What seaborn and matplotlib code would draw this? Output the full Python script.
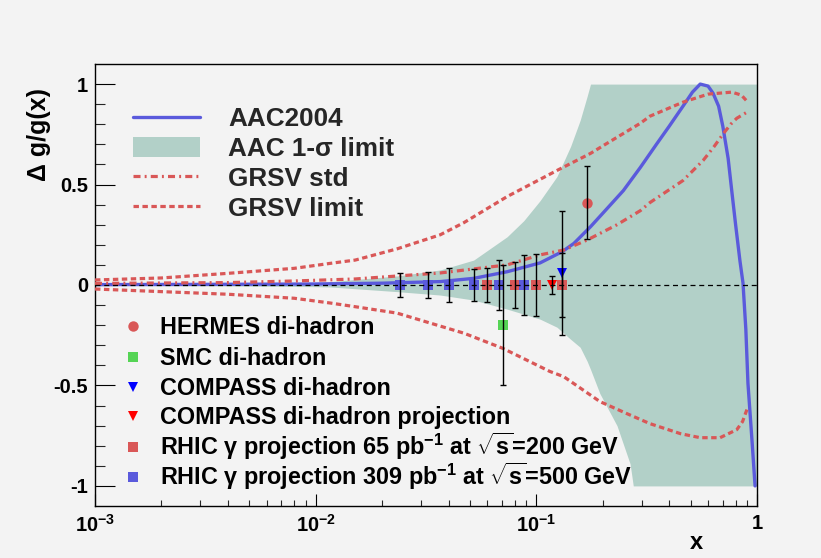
import numpy as np
import pandas as pd
import matplotlib
matplotlib.use("Agg")
import matplotlib.pyplot as plt
import seaborn as sns
from matplotlib.lines import Line2D
from matplotlib.patches import Patch
from matplotlib.ticker import FixedLocator, FuncFormatter

# AAC2004 central curve
aac_x = [0.001, 0.003, 0.01, 0.02, 0.0367, 0.052, 0.0737, 0.104, 0.131, 0.148, 0.176, 0.209,
         0.248, 0.296, 0.35, 0.4, 0.462, 0.51, 0.553, 0.6, 0.632, 0.67, 0.70, 0.74, 0.77,
         0.80, 0.837, 0.864, 0.89, 0.91, 0.95, 0.98]
aac_y = [0.002, 0.003, 0.005, 0.009, 0.017, 0.033, 0.066, 0.11, 0.166, 0.207, 0.29, 0.38,
         0.47, 0.585, 0.70, 0.79, 0.89, 0.96, 1.0, 0.99, 0.955, 0.89, 0.79, 0.63, 0.46,
         0.3, 0.12, 0.01, -0.22, -0.49, -0.78, -1.0]

# AAC 1-sigma band
band_x = [0.001, 0.003, 0.0096, 0.0117, 0.0234, 0.0367, 0.052, 0.0737, 0.0877, 0.104, 0.124,
          0.143, 0.158, 0.17, 0.176, 0.194, 0.232, 0.266, 0.275, 1.0]
band_up = [0.002, 0.004, 0.012, 0.017, 0.045, 0.075, 0.124, 0.24, 0.32, 0.42, 0.54,
           0.69, 0.82, 0.94, 1.0, 1.0, 1.0, 1.0, 1.0, 1.0]
band_lo = [-0.002, -0.004, -0.008, -0.01, -0.033, -0.05, -0.075, -0.12, -0.145, -0.17, -0.21,
           -0.27, -0.31, -0.38, -0.42, -0.54, -0.70, -0.89, -1.0, -1.0]

# GRSV std
gs_x = [0.001, 0.004, 0.008, 0.0151, 0.0367, 0.0737, 0.104, 0.133, 0.17, 0.232, 0.296,
        0.327, 0.462, 0.57, 0.64, 0.70, 0.76, 0.81, 0.9]
gs_y = [0.008, 0.012, 0.02, 0.03, 0.06, 0.1, 0.15, 0.174, 0.224, 0.3, 0.37,
        0.41, 0.52, 0.62, 0.69, 0.75, 0.80, 0.83, 0.86]

# GRSV limit, upper and lower
glu_x = [0.001, 0.002, 0.004, 0.008, 0.0117, 0.0151, 0.0234, 0.0367, 0.0469, 0.0737, 0.124,
         0.176, 0.209, 0.296, 0.327, 0.462, 0.6, 0.77, 0.85, 0.9]
glu_y = [0.025, 0.035, 0.058, 0.083, 0.108, 0.124, 0.18, 0.25, 0.31, 0.44, 0.57,
         0.655, 0.705, 0.805, 0.84, 0.91, 0.95, 0.96, 0.945, 0.915]
gll_x = [0.001, 0.004, 0.008, 0.0117, 0.0151, 0.0234, 0.047, 0.0704, 0.115, 0.133, 0.194,
         0.257, 0.327, 0.45, 0.553, 0.68, 0.81, 0.86, 0.9]
gll_y = [-0.02, -0.046, -0.066, -0.09, -0.108, -0.14, -0.24, -0.315, -0.43, -0.456, -0.58,
         -0.64, -0.69, -0.74, -0.76, -0.76, -0.72, -0.68, -0.62]

# data points
hermes_x, hermes_y, hermes_e = [0.17], [0.41], [0.18]
smc_x, smc_y, smc_e = [0.0707], [-0.2], [0.3]
compass_x, compass_y, compass_e = [0.131], [0.06], [0.31]
cproj_x, cproj_y, cproj_e = [0.118], [0.0], [0.046]
rhic65_x = [0.060, 0.080, 0.100, 0.131]
rhic65_y = [0.0, 0.0, 0.0, 0.0]
rhic65_e = [0.087, 0.112, 0.155, 0.16]
rhic309_x = [0.024, 0.0322, 0.0402, 0.052, 0.068, 0.088]
rhic309_y = [0.0, 0.0, 0.0, 0.0, 0.0, 0.0]
rhic309_e = [0.06, 0.067, 0.087, 0.08, 0.122, 0.15]

ytick_vals = [-1, -0.5, 0, 0.5, 1]
ytick_labels = ["-1", "-0.5", "0", "0.5", "1"]
xtick_vals = [0.001, 0.01, 0.1, 1]
xtick_labels = [r"$10^{-3}$", r"$10^{-2}$", r"$10^{-1}$", "1"]

bg = "#f3f3f3"
teal = "#b2d0c8"
blue = "#5a5adc"
red = "#d95757"
green = "#55d455"

sns.set_theme(style="ticks")
plt.rcParams["font.family"] = ["Liberation Sans", "DejaVu Sans"]
plt.rcParams["font.weight"] = "bold"
plt.rcParams["mathtext.fontset"] = "custom"
plt.rcParams["mathtext.rm"] = "Liberation Sans:bold"
plt.rcParams["mathtext.bf"] = "Liberation Sans:bold"
plt.rcParams["mathtext.it"] = "Liberation Sans:bold:italic"
plt.rcParams["mathtext.default"] = "regular"

fig = plt.figure(figsize=(8.21, 5.58), dpi=100, facecolor=bg)
ax = fig.add_axes([95 / 821, 1 - 506 / 558, 662 / 821, 442 / 558])
ax.set_facecolor(bg)
ax.set_xscale("log")

ax.fill_between(band_x, band_lo, band_up, color=teal, lw=0, zorder=1)

dash_lim = (0, (1.7, 1.1))
dash_std = (0, (2.2, 1.3, 0.6, 1.3))
sns.lineplot(x=glu_x, y=glu_y, ax=ax, color=red, lw=2.3, linestyle=dash_lim, sort=False, zorder=3)
sns.lineplot(x=gll_x, y=gll_y, ax=ax, color=red, lw=2.3, linestyle=dash_lim, sort=False, zorder=3)
sns.lineplot(x=gs_x, y=gs_y, ax=ax, color=red, lw=2.3, linestyle=dash_std, sort=False, zorder=3)
sns.lineplot(x=aac_x, y=aac_y, ax=ax, color=blue, lw=2.4, sort=False, zorder=2)

pts = [
    (hermes_x, hermes_y, hermes_e, "o", red, 7.5),
    (smc_x, smc_y, smc_e, "s", green, 6.5),
    (compass_x, compass_y, compass_e, "v", "#0000ff", 7),
    (cproj_x, cproj_y, cproj_e, "v", "#ff0000", 7),
    (rhic65_x, rhic65_y, rhic65_e, "s", red, 6.5),
    (rhic309_x, rhic309_y, rhic309_e, "s", blue, 6.5),
]
for px, py, pe, mk, col, ms in pts:
    ax.plot(px, py, ls="none", marker=mk, color=col, ms=ms, mew=0, zorder=4)
    ax.errorbar(px, py, yerr=pe, fmt="none", ecolor="black", elinewidth=1, capsize=2.5,
                capthick=1, zorder=5)

ax.axhline(0, color="black", lw=0.9, ls=(0, (4, 3)), zorder=6)

ax.set_xlim(0.001, 1)
ax.set_ylim(-1.1, 1.1)
ax.xaxis.set_major_locator(FixedLocator(xtick_vals))
ax.xaxis.set_major_formatter(FuncFormatter(lambda v, pos: xtick_labels[xtick_vals.index(v)] if v in xtick_vals else ""))
ax.xaxis.set_minor_locator(FixedLocator([m * 10.0 ** e for e in (-3, -2, -1) for m in range(2, 10)]))
ax.yaxis.set_major_locator(FixedLocator(ytick_vals))
ax.set_yticklabels(ytick_labels)
ax.yaxis.set_minor_locator(FixedLocator(np.round(np.arange(-1.0, 1.01, 0.1), 2)))
ax.tick_params(axis="y", which="major", direction="in", length=14.5, width=0.8, labelsize=14.5, pad=5, colors="black")
ax.tick_params(axis="y", which="minor", direction="in", length=7.2, width=0.8)
ax.tick_params(axis="x", which="major", direction="in", length=8.6, width=0.8, labelsize=14.5, pad=6, colors="black")
ax.tick_params(axis="x", which="minor", direction="in", length=4.3, width=0.8)
for lab in ax.get_xticklabels() + ax.get_yticklabels():
    lab.set_fontweight("bold")
for sp in ax.spines.values():
    sp.set_color("black")
    sp.set_linewidth(1)

ax.set_ylabel("\u0394 g/g(x)", loc="top", fontsize=18, fontweight="bold", color="black")
ax.yaxis.set_label_coords(-0.066, 0.946)
ax.set_xlabel("x", loc="right", fontsize=17, fontweight="bold", color="black")
ax.xaxis.set_label_coords(0.918, -0.056)

# upper legend: the curves
top_handles = [
    Line2D([], [], color=blue, lw=2.4),
    Patch(facecolor=teal, edgecolor="none"),
    Line2D([], [], color=red, lw=2.3, ls=dash_std),
    Line2D([], [], color=red, lw=2.3, ls=dash_lim),
]
top_labels = ["AAC2004", "AAC 1-\u03c3 limit", "GRSV std", "GRSV limit"]
leg1 = ax.legend(top_handles, top_labels, loc="upper left", bbox_to_anchor=(0.0574, 0.902),
                 frameon=False, fontsize=18.8, handlelength=2.57, handleheight=0.8,
                 handletextpad=1.07, labelspacing=0.22, borderpad=0, borderaxespad=0)
for t in leg1.get_texts():
    t.set_fontweight("bold")

# lower legend: the data sets, one row each
bot_labels = [
    "HERMES di-hadron",
    "SMC di-hadron",
    "COMPASS di-hadron",
    "COMPASS di-hadron projection",
    r"RHIC $\gamma$ projection 65 pb$^{-1}$ at $\sqrt{s}$=200 GeV",
    r"RHIC $\gamma$ projection 309 pb$^{-1}$ at $\sqrt{s}$=500 GeV",
]
row_px = [326, 357, 387, 416, 447, 477]
for (px, py, pe, mk, col, ms), lab, ry in zip(pts, bot_labels, row_px):
    fy = (506 - ry) / 442
    ax.plot([(133 - 95) / 662], [fy], transform=ax.transAxes, ls="none", marker=mk,
            color=col, ms=ms, mew=0, clip_on=False, zorder=7)
    ax.text((160 - 95) / 662, fy - 8 / 442, lab, transform=ax.transAxes, fontsize=16.8,
            fontweight="bold", color="black", ha="left", va="baseline", zorder=7)

fig.savefig("out.png", dpi=100, facecolor=bg)
